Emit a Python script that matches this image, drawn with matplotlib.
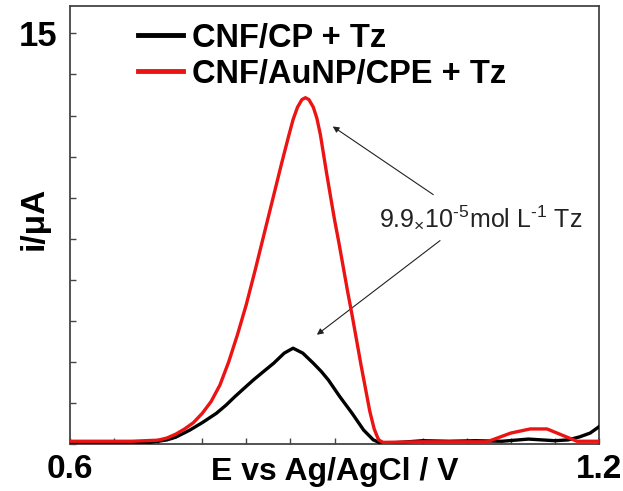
import matplotlib
matplotlib.use("Agg")
import matplotlib.pyplot as plt

plt.rcParams['font.family'] = ['Liberation Sans', 'DejaVu Sans']
plt.rcParams['mathtext.fontset'] = 'custom'
plt.rcParams['mathtext.rm'] = 'Liberation Sans'
plt.rcParams['mathtext.it'] = 'Liberation Sans'

# Data
black_E = [0.60, 0.65, 0.69, 0.70, 0.71, 0.72, 0.736, 0.75, 0.766, 0.777, 0.787, 0.798,
           0.808, 0.82, 0.831, 0.843, 0.853, 0.864, 0.876, 0.885, 0.893, 0.906, 0.920,
           0.933, 0.944, 0.952, 0.97, 1.00, 1.03, 1.06, 1.09, 1.12, 1.15, 1.165, 1.178,
           1.19, 1.20]
black_i = [0.05, 0.05, 0.06, 0.1, 0.15, 0.25, 0.51, 0.78, 1.12, 1.42, 1.73, 2.05,
           2.34, 2.66, 2.95, 3.32, 3.5, 3.32, 2.95, 2.65, 2.34, 1.73, 1.12,
           0.51, 0.15, 0.04, 0.05, 0.12, 0.1, 0.12, 0.1, 0.18, 0.12, 0.15, 0.26,
           0.4, 0.63]

red_E = [0.60, 0.67, 0.70, 0.71, 0.72, 0.73, 0.74, 0.75, 0.76, 0.77, 0.78, 0.79,
         0.80, 0.81, 0.82, 0.83, 0.84, 0.848, 0.853, 0.858, 0.863, 0.867, 0.871,
         0.876, 0.880, 0.884, 0.887, 0.891, 0.896, 0.900, 0.905, 0.910, 0.915,
         0.920, 0.925, 0.930, 0.935, 0.940, 0.945, 0.950, 0.955, 1.00, 1.073, 1.10,
         1.122, 1.141, 1.16, 1.175, 1.20]
red_i = [0.1, 0.1, 0.14, 0.22, 0.36, 0.55, 0.78, 1.12, 1.55, 2.15, 3.0, 4.0,
         5.1, 6.35, 7.65, 8.95, 10.25, 11.25, 11.85, 12.3, 12.58, 12.65, 12.58,
         12.3, 11.9, 11.3, 10.7, 9.9, 8.95, 8.2, 7.35, 6.45, 5.55,
         4.7, 3.8, 2.9, 2.05, 1.2, 0.55, 0.15, 0.06, 0.08, 0.08, 0.4,
         0.55, 0.55, 0.3, 0.1, 0.1]

labels = ["CNF/CP + Tz", "CNF/AuNP/CPE + Tz"]
x_ticks = [round(0.6 + 0.05 * k, 2) for k in range(13)]
x_ticklabels = ["0.6" if t == 0.6 else ("1.2" if t == 1.2 else "") for t in x_ticks]
y_ticks = [1.5 * k for k in range(11)]
y_ticklabels = ["15" if t == 15 else "" for t in y_ticks]

fig = plt.figure(figsize=(6.23, 4.91), dpi=100)
ax = fig.add_axes([70/623, 47/491, 529/623, 438/491])

ax.plot(black_E, black_i, color='black', lw=2.4, label=labels[0], zorder=3)
ax.plot(red_E, red_i, color='#ec1313', lw=2.4, label=labels[1], zorder=4)

ax.set_xlim(0.6, 1.2)
ax.set_ylim(0, 16)
ax.set_xticks(x_ticks)
ax.set_xticklabels(x_ticklabels)
ax.set_yticks(y_ticks)
ax.set_yticklabels(y_ticklabels)
ax.tick_params(direction='in', length=4, width=1, color='#444444')
ax.tick_params(axis='x', pad=7, labelsize=24)
ax.tick_params(axis='y', pad=9, labelsize=25)
for lab in ax.get_xticklabels() + ax.get_yticklabels():
    lab.set_fontweight('bold')
for s in ax.spines.values():
    s.set_color('#444444')
    s.set_linewidth(1.3)

ax.set_xlabel("E vs Ag/AgCl / V", fontsize=23, fontweight='bold', labelpad=-20)
ax.set_ylabel("i/μA", fontsize=24, fontweight='bold')
ax.yaxis.set_label_coords(-0.038, 0.516)

leg = ax.legend(loc='upper left', bbox_to_anchor=(0.1285, 0.962), frameon=False,
                prop={'size': 23.5, 'weight': 'bold'}, handlelength=1.38,
                handletextpad=0.28, labelspacing=0.16, borderpad=0, borderaxespad=0)
for h in leg.get_lines():
    h.set_linewidth(3.5)

ax.text(1.066, 8.27, "9.9$_{\\times}$10$^{\u20105}$mol L$^{\u20101}$ Tz", fontsize=18,
        ha='center', va='center', color='#222222')
ax.annotate("", xy=(0.898, 11.6), xytext=(1.012, 9.11),
            arrowprops=dict(arrowstyle='-|>', lw=0.8, color='#222222', mutation_scale=9,
                            shrinkA=0, shrinkB=0))
ax.annotate("", xy=(0.880, 3.99), xytext=(1.0197, 7.43),
            arrowprops=dict(arrowstyle='-|>', lw=0.8, color='#222222', mutation_scale=9,
                            shrinkA=0, shrinkB=0))

fig.savefig("out.png", dpi=100)
